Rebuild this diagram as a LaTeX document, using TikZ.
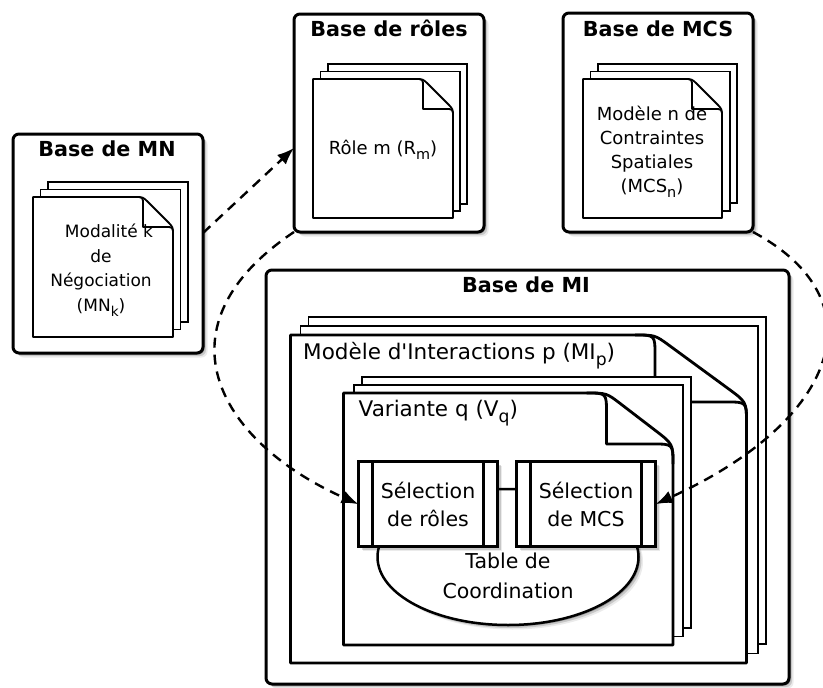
\documentclass[tikz,border=0pt]{standalone}
\usepackage{fontspec}
\setmainfont{DejaVu Sans}
\usepackage{graphicx}
\usetikzlibrary{arrows.meta,shadows,shapes.geometric,calc}

\newcommand{\subt}[1]{\raisebox{-0.3em}{\scalebox{0.8}{#1}}}
% x0 y0 x1 y1 foldw foldh radius linewidth
\newcommand{\mydocpage}[8]{%
  \filldraw[fill=white, line width=#8, line join=round]
    (#1,#2) -- ({#3-#5-#7},#2)
    .. controls ({#3-#5},#2) .. ({#3-#5+0.7*#7},{#2+0.7*#7*#6/#5})
    -- ({#3-0.7*#7*#5/#6},{#2+#6-0.7*#7})
    .. controls (#3,{#2+#6}) .. (#3,{#2+#6+#7})
    -- (#3,#4) -- (#1,#4) -- cycle;
  \draw[line width=#8, line join=round]
    ({#3-#5-#7},#2) .. controls ({#3-#5},#2) .. ({#3-#5},{#2+#7})
    -- ({#3-#5},{#2+#6}) -- ({#3-#7},{#2+#6})
    .. controls (#3,{#2+#6}) .. (#3,{#2+#6+#7});
}

\begin{document}
\begin{tikzpicture}[x=1pt,y=-1pt,
  softshadow/.style={
    drop shadow={shadow xshift=4.5pt, shadow yshift=-4.5pt, opacity=0.08, fill=black},
    drop shadow={shadow xshift=3pt, shadow yshift=-3pt, opacity=0.15, fill=black},
    drop shadow={shadow xshift=1.5pt, shadow yshift=-1.5pt, opacity=0.25, fill=black}},
  outerbox/.style={draw, line width=3pt, rounded corners=6pt, fill=white, inner sep=0pt, outer sep=0pt, softshadow},
  titletxt/.style={font=\bfseries\fontsize{20.7}{24}\selectfont, anchor=base, inner sep=0pt},
  backpg/.style={draw, fill=white, line width=1.3pt},
  bodytxt/.style={align=center, inner sep=0pt},
  pagelabel/.style={anchor=base west, font=\fontsize{21.5}{26}\selectfont, inner sep=0pt},
  selbox/.style={draw, fill=white, line width=2.8pt, minimum width=139pt, minimum height=85pt, inner sep=0pt, outer sep=0pt, align=center, font=\fontsize{20.5}{28}\selectfont, softshadow},
  dasharrow/.style={line width=2.4pt, dash pattern=on 10pt off 7pt, -{Latex[length=17pt,width=13pt]}},
]
\useasboundingbox (0,0) rectangle (823,688);

% outer boxes
\node[outerbox, minimum width=190pt, minimum height=219pt] (mn) at (108,243.5) {};
\node[outerbox, minimum width=190pt, minimum height=218pt] (roles) at (389,123) {};
\node[outerbox, minimum width=190pt, minimum height=219pt] (mcs) at (658,122.5) {};
\node[outerbox, minimum width=523pt, minimum height=414pt] (mi) at (527.5,477) {};

% titles
\node[titletxt] (tmn) at (107,156.5) {Base de MN};
\node[titletxt] (troles) at (389,36) {Base de rôles};
\node[titletxt] (tmcs) at (658,36) {Base de MCS};
\node[titletxt] (tmi) at (526,292) {Base de MI};

% MN stack
\draw[backpg] (48,182) rectangle (188,322);
\draw[backpg] (40.5,189.5) rectangle (180.5,329.5);
\mydocpage{33}{197}{173}{337}{30}{30}{8}{1.8pt}
\node[bodytxt, font=\fontsize{17}{24.5}\selectfont] (tmnk) at (101,270) {\hspace*{16pt}Modalité k\\de\\Négociation\\(MN\subt{k})};

% roles stack
\draw[backpg] (328,64) rectangle (467,204);
\draw[backpg] (320.5,71.5) rectangle (460,211);
\mydocpage{313}{79}{453}{218}{30}{30}{8}{1.8pt}
\node[bodytxt, font=\fontsize{18}{24}\selectfont] (trm) at (383,150) {Rôle m (R\subt{m})};

% MCS stack
\draw[backpg] (598,64) rectangle (737,203);
\draw[backpg] (590.5,71.5) rectangle (730,211);
\mydocpage{583}{79}{722}{218}{30}{30}{8}{1.8pt}
\node[bodytxt, font=\fontsize{18}{24}\selectfont] (tmcsn) at (652,152) {Modèle n de\\Contraintes\\Spatiales\\(MCS\subt{n})};

% MI stack
\draw[backpg, line width=1.5pt] (308.5,317) rectangle (766,644);
\draw[backpg, line width=1.5pt] (300.5,326) rectangle (758,653.5);
\mydocpage{290.5}{335}{746.5}{663}{91.5}{67}{20}{2.8pt}
\node[pagelabel] (tmip) at (303,359) {Modèle d\textquotesingle Interactions p (MI\subt{p})};

% Variante stack
\draw[backpg, line width=1.5pt] (362,377) rectangle (691,628);
\draw[backpg, line width=1.5pt] (354,385) rectangle (683,636.5);
\mydocpage{343.5}{393}{673}{645}{66.5}{51}{20}{2.8pt}
\node[pagelabel] (tvq) at (358.5,416.5) {Variante q (V\subt{q})};

% coordination table
\node[draw, ellipse, line width=2.5pt, fill=white, minimum width=261pt, minimum height=136pt, inner sep=0pt, softshadow] (tab) at (508,557) {};
\node[align=center, font=\fontsize{20.5}{30}\selectfont, inner sep=0pt] (ttab) at (508,576) {Table de\\Coordination};

% selection boxes
\node[selbox] (selr) at (428,504.2) {Sélection\\de rôles};
\node[selbox] (selm) at (586,504.2) {Sélection\\de MCS};
\foreach \b in {selr,selm} {
  \draw[line width=2.8pt] ([xshift=14pt]\b.north west) -- ([xshift=14pt]\b.south west);
  \draw[line width=2.8pt] ([xshift=-14pt]\b.north east) -- ([xshift=-14pt]\b.south east);
}

% dashed connectors
\draw[dasharrow] ([yshift=10.5pt]mn.east) -- ([yshift=-25pt]roles.west);
\draw[dasharrow] (roles.south west) .. controls (155,325) and (215,440) .. (selr.west);
\draw[dasharrow] (mcs.south east) .. controls (880,300) and (840,420) .. (selm.east);
\end{tikzpicture}
\end{document}
